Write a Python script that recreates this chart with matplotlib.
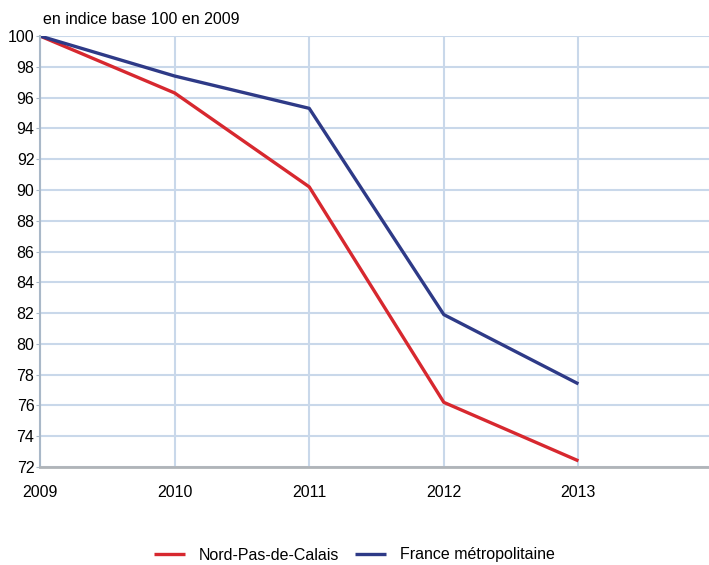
import matplotlib.pyplot as plt

plt.rcParams['font.family'] = ['Liberation Sans', 'DejaVu Sans']

annees = [2009, 2010, 2011, 2012, 2013]
nord_pas_de_calais = [100, 96.3, 90.2, 76.2, 72.4]
france_metro = [100, 97.4, 95.3, 81.9, 77.4]

fig = plt.figure(figsize=(7.09, 5.65), dpi=100)
ax = fig.add_axes([40 / 709, 1 - 467 / 565, 1 - 40 / 709, (467 - 36) / 565])

ax.plot(annees, nord_pas_de_calais, color='#d7282f', lw=2.4, label='Nord-Pas-de-Calais', solid_capstyle='butt')
ax.plot(annees, france_metro, color='#2e3a87', lw=2.4, label='France métropolitaine', solid_capstyle='butt')

ax.set_xlim(2009, 2013.97)
ax.set_ylim(72, 100)
ax.set_yticks(range(72, 101, 2))
ax.set_xticks(annees)
ax.grid(True, color='#c9d8ea', lw=1.5)
ax.set_axisbelow(True)

for s in ['top', 'right']:
    ax.spines[s].set_visible(False)
ax.spines['left'].set_color('#a9b8c8')
ax.spines['left'].set_linewidth(1.5)
ax.spines['bottom'].set_color('#b0b4b8')
ax.spines['bottom'].set_linewidth(2)

ax.tick_params(axis='y', length=3, color='#a9b8c8', labelsize=11.5, pad=1)
ax.tick_params(axis='x', length=0, labelsize=11.5, pad=13)

fig.text(43 / 709, 1 - 20 / 565, 'en indice base 100 en 2009', fontsize=11.5, va='center', ha='left')

fig.legend(loc='center', bbox_to_anchor=(0.5, 1 - 555 / 565), ncol=2, frameon=False,
           fontsize=11.5, handlelength=1.9, handletextpad=0.9, columnspacing=1.0)

fig.savefig('out.png', dpi=100)
